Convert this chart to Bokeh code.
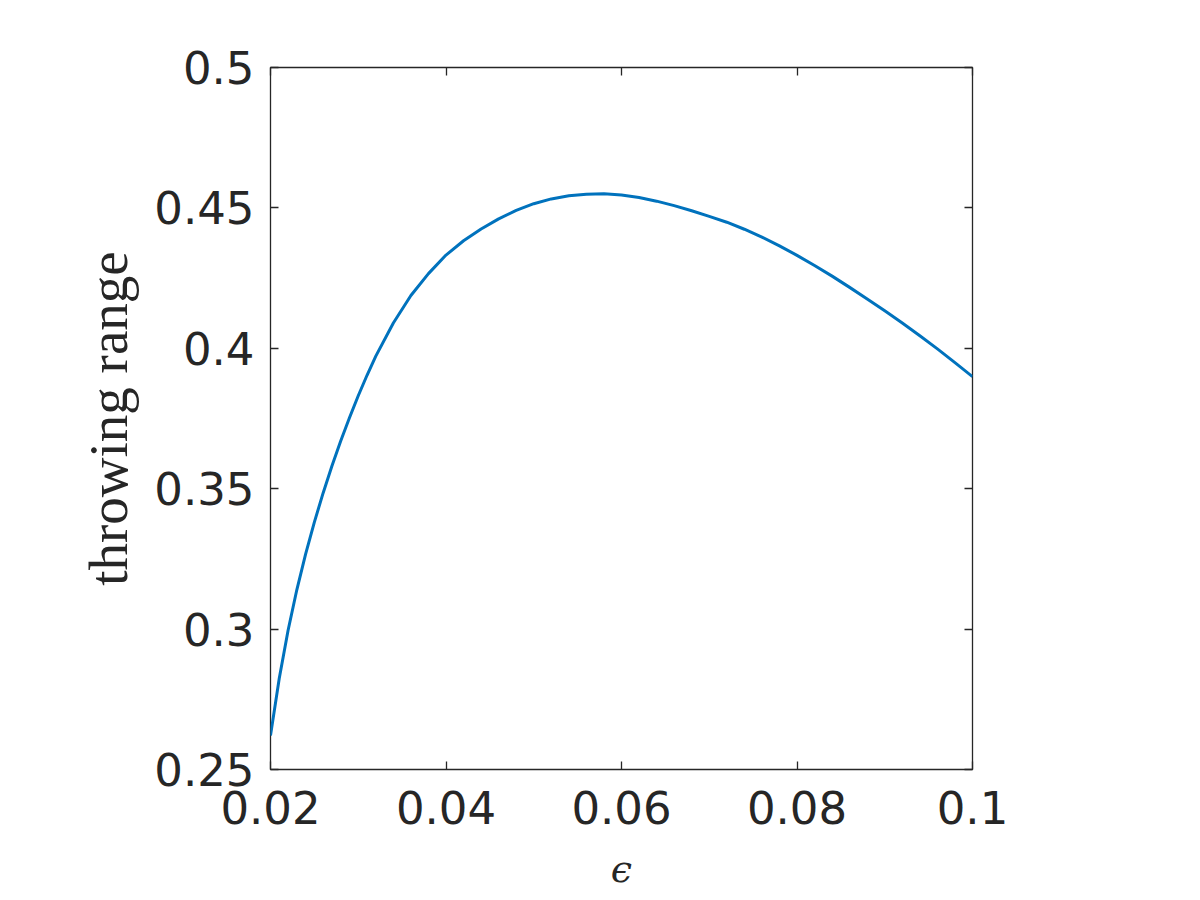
from bokeh.plotting import figure
from bokeh.models import Range1d, FixedTicker, CustomJSTickFormatter, LinearAxis
from bokeh.embed import file_html
from bokeh.resources import INLINE

# data
eps = [0.020, 0.021, 0.022, 0.023, 0.024, 0.025, 0.026, 0.027, 0.028, 0.029,
       0.030, 0.031, 0.032, 0.034, 0.036, 0.038, 0.040, 0.042, 0.044, 0.046,
       0.048, 0.050, 0.052, 0.054, 0.056, 0.058, 0.060, 0.062, 0.064, 0.066,
       0.068, 0.070, 0.072, 0.074, 0.076, 0.078, 0.080, 0.082, 0.084, 0.086,
       0.088, 0.090, 0.092, 0.094, 0.096, 0.098, 0.100]
throw_range = [0.2621, 0.2825, 0.2995, 0.3140, 0.3267, 0.3381, 0.3485, 0.3581, 0.3670, 0.3753,
               0.3831, 0.3904, 0.3972, 0.4090, 0.4188, 0.4266, 0.4332, 0.4383, 0.4425, 0.4461,
               0.4491, 0.4515, 0.4532, 0.4543, 0.4549, 0.4550, 0.4546, 0.4537, 0.4524, 0.4508,
               0.4490, 0.4470, 0.4449, 0.4424, 0.4396, 0.4365, 0.4331, 0.4295, 0.4257, 0.4217,
               0.4176, 0.4134, 0.4090, 0.4045, 0.3998, 0.3949, 0.3899]
x_ticks = [0.02, 0.04, 0.06, 0.08, 0.1]
y_ticks = [0.25, 0.3, 0.35, 0.4, 0.45, 0.5]

AX = "#262626"
TICK_FONT = "DejaVu Sans"

p = figure(width=1184, height=884, output_backend="svg", toolbar_location=None,
           x_range=Range1d(0.02, 0.1), y_range=Range1d(0.25, 0.5),
           frame_width=702, frame_height=702,
           min_border_left=270, min_border_top=67, min_border_right=212, min_border_bottom=115)
p.grid.visible = False
p.background_fill_color = "white"
p.border_fill_color = "white"
p.outline_line_color = AX
p.outline_line_width = 1.3

fmt = CustomJSTickFormatter(code="return tick.toFixed(2).replace(/0+$/, '');")

for ax, ticks in ((p.xaxis[0], x_ticks), (p.yaxis[0], y_ticks)):
    ax.ticker = FixedTicker(ticks=ticks)
    ax.formatter = fmt
    ax.axis_line_color = None
    ax.major_tick_in = 8
    ax.major_tick_out = 0
    ax.major_tick_line_color = AX
    ax.major_tick_line_width = 1.3
    ax.minor_tick_line_color = None
    ax.major_label_text_font = TICK_FONT
    ax.major_label_text_font_size = "45px"
    ax.major_label_text_color = AX

p.xaxis.major_label_standoff = 21
p.yaxis.major_label_standoff = 16

p.xaxis.axis_label = "\u03f5"
p.xaxis.axis_label_text_font = "DejaVu Serif"
p.xaxis.axis_label_text_font_style = "italic"
p.xaxis.axis_label_text_font_size = "38px"
p.xaxis.axis_label_text_color = AX
p.xaxis.axis_label_standoff = 20

p.yaxis.axis_label = "throwing range"
p.yaxis.axis_label_text_font = "Liberation Serif"
p.yaxis.axis_label_text_font_style = "normal"
p.yaxis.axis_label_text_font_size = "55px"
p.yaxis.axis_label_text_color = AX
p.yaxis.axis_label_standoff = 12

# top and right axes: ticks only
for loc, ticks in (("above", x_ticks), ("right", y_ticks)):
    a = LinearAxis(ticker=FixedTicker(ticks=ticks))
    a.axis_line_color = None
    a.major_tick_in = 8
    a.major_tick_out = 0
    a.major_tick_line_color = AX
    a.major_tick_line_width = 1.3
    a.minor_tick_line_color = None
    a.major_label_text_font_size = "0px"
    a.major_label_text_color = None
    a.major_label_standoff = 0
    p.add_layout(a, loc)

p.line(eps, throw_range, line_color="#0072BD", line_width=3, line_join="round")

open("out.html", "w").write(file_html(p, INLINE))
